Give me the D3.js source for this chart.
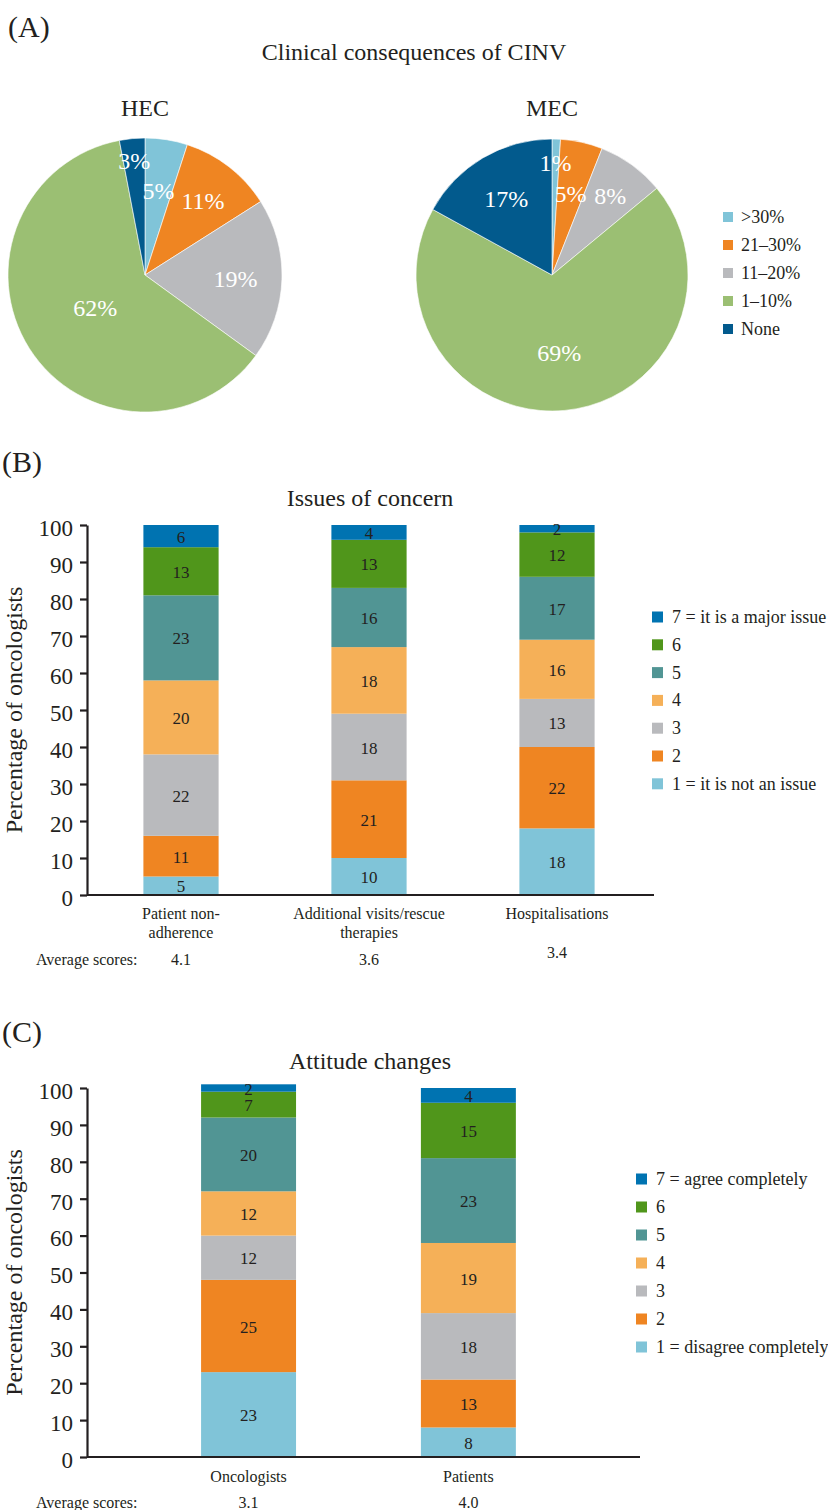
<!DOCTYPE html>
<html>
<head>
<meta charset="utf-8">
<script src="https://cdn.jsdelivr.net/npm/d3@7"></script>
<style>
  body { margin: 0; background: #fff; }
  svg { display: block; }
  text { font-family: "Liberation Serif", "Times New Roman", serif; fill: #231f20; }
</style>
</head>
<body>
<svg id="chart" width="828" height="1510"></svg>
<script>
// ---- Panel A: clinical consequences of CINV ----
const pieGroups = ["HEC", "MEC"];
const pieCategories = [">30%", "21–30%", "11–20%", "1–10%", "None"];
const hecValues = [5, 11, 19, 62, 3];
const mecValues = [1, 5, 8, 69, 17];

// ---- Panel B: issues of concern ----
const issueCategories = ["Patient non-adherence", "Additional visits/rescue therapies", "Hospitalisations"];
const issueLabelLines = [["Patient non-", "adherence"], ["Additional visits/rescue", "therapies"], ["Hospitalisations"]];
const nonAdherence = [5, 11, 22, 20, 23, 13, 6];
const additionalVisits = [10, 21, 18, 18, 16, 13, 4];
const hospitalisations = [18, 22, 13, 16, 17, 12, 2];
const issueAverages = ["4.1", "3.6", "3.4"];
const issueLegend = ["1 = it is not an issue", "2", "3", "4", "5", "6", "7 = it is a major issue"];

// ---- Panel C: attitude changes ----
const attitudeCategories = ["Oncologists", "Patients"];
const oncologists = [23, 25, 12, 12, 20, 7, 2];
const patients = [8, 13, 18, 19, 23, 15, 4];
const attitudeAverages = ["3.1", "4.0"];
const attitudeLegend = ["1 = disagree completely", "2", "3", "4", "5", "6", "7 = agree completely"];

const scoreLevels = ["1", "2", "3", "4", "5", "6", "7"];
const yTicks = [0, 10, 20, 30, 40, 50, 60, 70, 80, 90, 100];

// ---- styling ----
const pieColors = ["#80c4d8", "#ef8522", "#b9babd", "#9bbf73", "#025a8d"];
const barColors = ["#80c4d8", "#ef8522", "#b9babd", "#f5b058", "#519594", "#50961b", "#0073b1"];
const ink = "#231f20";

const svg = d3.select("#chart");

// panel letters and titles
svg.append("text").attr("x", 8).attr("y", 37).attr("font-size", 30).text("(A)");
svg.append("text").attr("x", 2).attr("y", 472).attr("font-size", 30).text("(B)");
svg.append("text").attr("x", 2).attr("y", 1042).attr("font-size", 30).text("(C)");
svg.append("text").attr("x", 414).attr("y", 60).attr("text-anchor", "middle").attr("font-size", 24)
  .text("Clinical consequences of CINV");

// ---------- pies ----------
const pieLayout = [
  { cx: 145, cy: 275, r: 137, values: hecValues, labelR: [0.63, 0.69, 0.66, 0.43, 0.84] },
  { cx: 552, cy: 275, r: 136, values: mecValues, labelR: [0.83, 0.62, 0.73, 0.57, 0.66] }
];
const pie = d3.pie().sort(null).value(d => d);

pieLayout.forEach((p, gi) => {
  const g = svg.append("g").attr("transform", `translate(${p.cx},${p.cy})`);
  svg.append("text").attr("x", p.cx).attr("y", 116).attr("text-anchor", "middle").attr("font-size", 24)
    .text(pieGroups[gi]);
  const arcs = pie(p.values);
  const arc = d3.arc().innerRadius(0).outerRadius(p.r);
  g.selectAll("path").data(arcs).join("path")
    .attr("d", arc)
    .attr("fill", (d, i) => pieColors[i])
    .attr("stroke", "#fff").attr("stroke-width", 0.6);
  g.selectAll("text.pl").data(arcs).join("text")
    .attr("class", "pl")
    .attr("transform", (d, i) => {
      const lr = p.r * p.labelR[i];
      const c = d3.arc().innerRadius(lr).outerRadius(lr).centroid(d);
      return `translate(${c[0]},${c[1] + 1})`;
    })
    .attr("text-anchor", "middle").attr("dominant-baseline", "central")
    .attr("font-size", 24).style("fill", "#fff")
    .text(d => d.data + "%");
});

// pie legend
const pieLeg = svg.append("g");
pieCategories.forEach((c, i) => {
  const y = 217 + i * 28;
  pieLeg.append("rect").attr("x", 723).attr("y", y - 5).attr("width", 10).attr("height", 10).attr("fill", pieColors[i]);
  pieLeg.append("text").attr("x", 741).attr("y", y).attr("dominant-baseline", "central")
    .attr("font-size", 18).text(c);
});

// ---------- stacked bar panels ----------
function stackedPanel(cfg) {
  const rows = cfg.categories.map((c, ci) => {
    const row = { category: c };
    scoreLevels.forEach((s, si) => { row[s] = cfg.series[ci][si]; });
    return row;
  });
  const stacked = d3.stack().keys(scoreLevels)(rows);

  const y = d3.scaleLinear().domain([0, 100]).range([cfg.y0, cfg.y100]);
  const x = d3.scaleBand().domain(cfg.categories).range([87, cfg.xEnd])
    .paddingInner(cfg.padInner).paddingOuter(cfg.padOuter).align(cfg.align);

  svg.append("text").attr("x", 370).attr("y", cfg.titleY).attr("text-anchor", "middle")
    .attr("font-size", 24).text(cfg.title);

  // y-axis title
  svg.append("text")
    .attr("transform", `translate(14,${(cfg.y0 + cfg.y100) / 2}) rotate(-90)`)
    .attr("text-anchor", "middle").attr("dominant-baseline", "central")
    .attr("font-size", 24).text("Percentage of oncologists");

  // bars
  const layers = svg.append("g").selectAll("g").data(stacked).join("g")
    .attr("fill", (d, i) => barColors[i]);
  layers.selectAll("rect").data(d => d.map(v => Object.assign(v, { key: d.key }))).join("rect")
    .attr("x", d => x(d.data.category))
    .attr("width", x.bandwidth())
    .attr("y", d => y(d[1]))
    .attr("height", d => y(d[0]) - y(d[1]));

  // value labels
  const labels = svg.append("g");
  stacked.forEach(layer => {
    layer.forEach(d => {
      labels.append("text")
        .attr("x", x(d.data.category) + x.bandwidth() / 2)
        .attr("y", (y(d[0]) + y(d[1])) / 2 + 1)
        .attr("text-anchor", "middle").attr("dominant-baseline", "central")
        .attr("font-size", 17).text(d[1] - d[0]);
    });
  });

  // y axis
  const axis = svg.append("g").attr("transform", "translate(87,0)")
    .call(d3.axisLeft(y).tickValues(yTicks).tickSize(7).tickSizeOuter(0).tickPadding(7));
  axis.select(".domain").attr("stroke", ink).attr("stroke-width", 2.2);
  axis.selectAll(".tick line").attr("stroke", ink).attr("stroke-width", 2.2);
  axis.selectAll(".tick text").attr("font-size", 23).attr("font-family", null).attr("dy", "0.45em")
    .style("fill", ink);

  // x baseline
  svg.append("line").attr("x1", 87).attr("x2", cfg.xEnd + 3).attr("y1", y(0)).attr("y2", y(0))
    .attr("stroke", ink).attr("stroke-width", 2.2);

  // category labels and averages
  cfg.categories.forEach((c, ci) => {
    const cx = x(c) + x.bandwidth() / 2;
    cfg.labelLines[ci].forEach((line, li) => {
      svg.append("text").attr("x", cx).attr("y", cfg.catY + li * 19)
        .attr("text-anchor", "middle").attr("dominant-baseline", "central")
        .attr("font-size", 16).text(line);
    });
    const shift = cfg.labelLines[ci].length === 1 && cfg.labelLines.some(l => l.length > 1) ? -7 : 0;
    svg.append("text").attr("x", cx).attr("y", cfg.avgY + shift)
      .attr("text-anchor", "middle").attr("dominant-baseline", "central")
      .attr("font-size", 16).text(cfg.averages[ci]);
  });
  svg.append("text").attr("x", 36).attr("y", cfg.avgY).attr("dominant-baseline", "central")
    .attr("font-size", 16).text("Average scores:");

  // legend, highest score on top
  const leg = svg.append("g");
  cfg.legend.slice().reverse().forEach((t, i) => {
    const idx = cfg.legend.length - 1 - i;
    const ly = cfg.legTop + i * cfg.legStep;
    leg.append("rect").attr("x", cfg.legX).attr("y", ly - 5.5).attr("width", 11).attr("height", 11)
      .attr("fill", barColors[idx]);
    leg.append("text").attr("x", cfg.legX + 20).attr("y", ly).attr("dominant-baseline", "central")
      .attr("font-size", 18).text(t);
  });
}

stackedPanel({
  title: "Issues of concern", titleY: 506,
  categories: issueCategories, labelLines: issueLabelLines,
  series: [nonAdherence, additionalVisits, hospitalisations],
  averages: issueAverages, legend: issueLegend,
  y0: 895, y100: 525, xEnd: 651, padInner: 0.6, padOuter: 0.3, align: 0.5,
  catY: 913, avgY: 959, legX: 652, legTop: 617, legStep: 27.8
});

stackedPanel({
  title: "Attitude changes", titleY: 1069,
  categories: attitudeCategories, labelLines: attitudeCategories.map(c => [c]),
  series: [oncologists, patients],
  averages: attitudeAverages, legend: attitudeLegend,
  y0: 1457, y100: 1088, xEnd: 637, padInner: 0.568, padOuter: 0.535, align: 0.485,
  catY: 1476, avgY: 1502, legX: 636, legTop: 1179, legStep: 28
});
</script>
</body>
</html>
